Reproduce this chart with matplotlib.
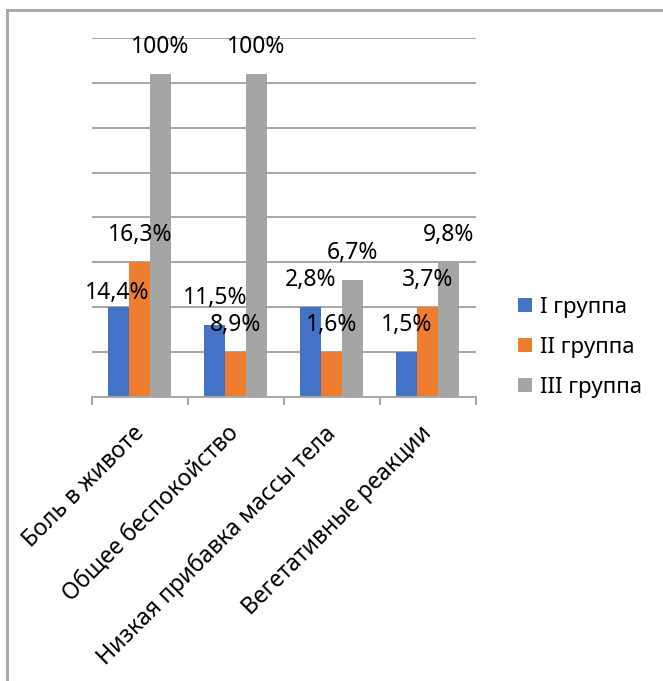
import matplotlib
matplotlib.use("Agg")
import matplotlib.pyplot as plt
import matplotlib.transforms as mtransforms
from matplotlib.lines import Line2D
from matplotlib.patches import Patch
import numpy as np

plt.rcParams['font.family'] = ['Noto Sans', 'DejaVu Sans']

categories = ["Боль в животе", "Общее беспокойство",
              "Низкая прибавка массы тела", "Вегетативные реакции"]
series_names = ["I группа", "II группа", "III группа"]

# bar heights as drawn in the source chart (gridline units)
heights_1 = [2.0, 1.6, 2.0, 1.0]
heights_2 = [3.0, 1.0, 1.0, 2.0]
heights_3 = [7.2, 7.2, 2.6, 3.0]

# data labels shown above the bars
labels_1 = ["14,4%", "11,5%", "2,8%", "1,5%"]
labels_2 = ["16,3%", "8,9%", "1,6%", "3,7%"]
labels_3 = ["100%", "100%", "6,7%", "9,8%"]

colors = ['#4472C4', '#ED7D31', '#A5A5A5']
grid_color = '#a6a6a6'

W, H = 663, 681
fig = plt.figure(figsize=(W / 100, H / 100), dpi=100)
ax = fig.add_axes([91.7 / W, 1 - 396.7 / H, 384.0 / W, 358.4 / H])

x = np.arange(len(categories))
bw = 0.217
all_heights = [heights_1, heights_2, heights_3]
all_labels = [labels_1, labels_2, labels_3]

for k in range(3):
    xs = x + (k - 1) * bw
    ax.bar(xs, all_heights[k], width=bw, color=colors[k], zorder=3,
           label=series_names[k])
    for i in range(len(categories)):
        dx, dy = 0, 19.4
        if k == 0 and i == 0:
            dx, dy = -1.4, 10
        ax.annotate(all_labels[k][i], (xs[i], all_heights[k][i]),
                    xytext=(dx, dy), textcoords='offset points',
                    ha='center', va='center', fontsize=16.5, zorder=5)

ax.set_xlim(-0.5, len(categories) - 0.5)
ax.set_ylim(0, 8)
ax.set_yticks(np.arange(1, 9))
ax.yaxis.grid(True, color=grid_color, linewidth=1.4, zorder=0)
ax.tick_params(axis='y', left=False, labelleft=False)

for s in ['left', 'right', 'top']:
    ax.spines[s].set_visible(False)
ax.spines['bottom'].set_color(grid_color)
ax.spines['bottom'].set_linewidth(1.4)
ax.spines['bottom'].set_zorder(4)

ax.set_xticks(x)
ax.set_xticklabels(categories, rotation=45, ha='right', va='top', fontsize=16.6)
ax.tick_params(axis='x', which='major', length=0, pad=18)
ax.set_xticks(np.arange(-0.5, len(categories)), minor=True)
ax.tick_params(axis='x', which='minor', length=6, width=1.4, color=grid_color,
               direction='out')
shift = mtransforms.ScaledTranslation(9 / 100, 0, fig.dpi_scale_trans)
for lab in ax.get_xticklabels():
    lab.set_transform(lab.get_transform() + shift)

handles = [Patch(facecolor=c, edgecolor='none') for c in colors]
fig.legend(handles, series_names, loc='center left',
           bbox_to_anchor=(518.3 / W, 1 - 347.3 / H), frameon=False,
           fontsize=16, handlelength=0.63, handleheight=0.63,
           handletextpad=0.33, labelspacing=0.85, borderpad=0,
           borderaxespad=0)

# chart area border (left and top edges visible)
fig.add_artist(Line2D([6.5 / W, 6.5 / W], [0, 1 - 9.5 / H],
                      transform=fig.transFigure, color=grid_color, linewidth=2))
fig.add_artist(Line2D([6.5 / W, 1], [1 - 9.5 / H, 1 - 9.5 / H],
                      transform=fig.transFigure, color=grid_color, linewidth=2))

fig.savefig("out.png", dpi=100)
